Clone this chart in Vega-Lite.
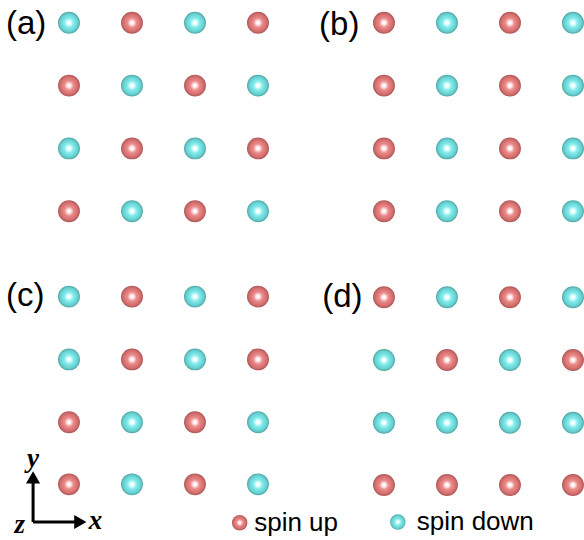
{
  "$schema": "https://vega.github.io/schema/vega-lite/v6.json",
  "width": 584,
  "height": 540,
  "autosize": "none",
  "padding": 0,
  "background": "white",
  "config": {"view": {"stroke": null}},
  "datasets": {
    "atoms": [
      {"panel": "a", "x": 1, "y": 1, "spin": "down"}, {"panel": "a", "x": 2, "y": 1, "spin": "up"}, {"panel": "a", "x": 3, "y": 1, "spin": "down"}, {"panel": "a", "x": 4, "y": 1, "spin": "up"},
      {"panel": "a", "x": 1, "y": 2, "spin": "up"}, {"panel": "a", "x": 2, "y": 2, "spin": "down"}, {"panel": "a", "x": 3, "y": 2, "spin": "up"}, {"panel": "a", "x": 4, "y": 2, "spin": "down"},
      {"panel": "a", "x": 1, "y": 3, "spin": "down"}, {"panel": "a", "x": 2, "y": 3, "spin": "up"}, {"panel": "a", "x": 3, "y": 3, "spin": "down"}, {"panel": "a", "x": 4, "y": 3, "spin": "up"},
      {"panel": "a", "x": 1, "y": 4, "spin": "up"}, {"panel": "a", "x": 2, "y": 4, "spin": "down"}, {"panel": "a", "x": 3, "y": 4, "spin": "up"}, {"panel": "a", "x": 4, "y": 4, "spin": "down"},
      {"panel": "b", "x": 6, "y": 1, "spin": "up"}, {"panel": "b", "x": 7, "y": 1, "spin": "down"}, {"panel": "b", "x": 8, "y": 1, "spin": "up"}, {"panel": "b", "x": 9, "y": 1, "spin": "down"},
      {"panel": "b", "x": 6, "y": 2, "spin": "up"}, {"panel": "b", "x": 7, "y": 2, "spin": "down"}, {"panel": "b", "x": 8, "y": 2, "spin": "up"}, {"panel": "b", "x": 9, "y": 2, "spin": "down"},
      {"panel": "b", "x": 6, "y": 3, "spin": "up"}, {"panel": "b", "x": 7, "y": 3, "spin": "down"}, {"panel": "b", "x": 8, "y": 3, "spin": "up"}, {"panel": "b", "x": 9, "y": 3, "spin": "down"},
      {"panel": "b", "x": 6, "y": 4, "spin": "up"}, {"panel": "b", "x": 7, "y": 4, "spin": "down"}, {"panel": "b", "x": 8, "y": 4, "spin": "up"}, {"panel": "b", "x": 9, "y": 4, "spin": "down"},
      {"panel": "c", "x": 1, "y": 5.36, "spin": "down"}, {"panel": "c", "x": 2, "y": 5.36, "spin": "up"}, {"panel": "c", "x": 3, "y": 5.36, "spin": "down"}, {"panel": "c", "x": 4, "y": 5.36, "spin": "up"},
      {"panel": "c", "x": 1, "y": 6.36, "spin": "down"}, {"panel": "c", "x": 2, "y": 6.36, "spin": "up"}, {"panel": "c", "x": 3, "y": 6.36, "spin": "down"}, {"panel": "c", "x": 4, "y": 6.36, "spin": "up"},
      {"panel": "c", "x": 1, "y": 7.36, "spin": "up"}, {"panel": "c", "x": 2, "y": 7.36, "spin": "down"}, {"panel": "c", "x": 3, "y": 7.36, "spin": "up"}, {"panel": "c", "x": 4, "y": 7.36, "spin": "down"},
      {"panel": "c", "x": 1, "y": 8.35, "spin": "up"}, {"panel": "c", "x": 2, "y": 8.35, "spin": "down"}, {"panel": "c", "x": 3, "y": 8.35, "spin": "up"}, {"panel": "c", "x": 4, "y": 8.35, "spin": "down"},
      {"panel": "d", "x": 6, "y": 5.37, "spin": "up"}, {"panel": "d", "x": 7, "y": 5.37, "spin": "down"}, {"panel": "d", "x": 8, "y": 5.37, "spin": "up"}, {"panel": "d", "x": 9, "y": 5.37, "spin": "down"},
      {"panel": "d", "x": 6, "y": 6.37, "spin": "down"}, {"panel": "d", "x": 7, "y": 6.37, "spin": "up"}, {"panel": "d", "x": 8, "y": 6.37, "spin": "down"}, {"panel": "d", "x": 9, "y": 6.37, "spin": "up"},
      {"panel": "d", "x": 6, "y": 7.37, "spin": "down"}, {"panel": "d", "x": 7, "y": 7.37, "spin": "down"}, {"panel": "d", "x": 8, "y": 7.37, "spin": "down"}, {"panel": "d", "x": 9, "y": 7.37, "spin": "down"},
      {"panel": "d", "x": 6, "y": 8.36, "spin": "up"}, {"panel": "d", "x": 7, "y": 8.36, "spin": "up"}, {"panel": "d", "x": 8, "y": 8.36, "spin": "up"}, {"panel": "d", "x": 9, "y": 8.36, "spin": "up"}
    ],
    "legend": [
      {"spin": "up", "label": "spin up", "x": 3.71, "y": 8.96, "tx": 3.94},
      {"spin": "down", "label": "spin down", "x": 6.22, "y": 8.95, "tx": 6.52}
    ],
    "panels": [
      {"label": "(a)", "x": 0.0, "y": 1.02},
      {"label": "(b)", "x": 4.97, "y": 1.03},
      {"label": "(c)", "x": 0.0, "y": 5.35},
      {"label": "(d)", "x": 5.02, "y": 5.37}
    ],
    "arrows": [
      {"x": 0.43, "y": 8.95, "x2": 0.43, "y2": 8.3},
      {"x": 0.43, "y": 8.95, "x2": 1.12, "y2": 8.95}
    ],
    "heads": [
      {"x": 0.43, "y": 8.24, "shape": "triangle-up"},
      {"x": 1.18, "y": 8.95, "shape": "triangle-right"}
    ],
    "axislabels": [
      {"label": "y", "x": 0.43, "y": 7.94},
      {"label": "x", "x": 1.42, "y": 8.94},
      {"label": "z", "x": 0.22, "y": 9.0}
    ]
  },
  "layer": [
    {
      "data": {"name": "atoms"},
      "transform": [{"filter": "datum.spin === 'up'"}],
      "mark": {"type": "circle", "size": 480, "opacity": 1,
        "fill": {"gradient": "radial", "x1": 0.5, "y1": 0.5, "r1": 0, "x2": 0.5, "y2": 0.5, "r2": 0.5,
          "stops": [{"offset": 0, "color": "#ffffff"}, {"offset": 0.16, "color": "#fff2f2"}, {"offset": 0.42, "color": "#ec8a8a"}, {"offset": 0.82, "color": "#d26c6c"}, {"offset": 1, "color": "#a85454"}]}},
      "encoding": {
        "x": {"field": "x", "type": "quantitative", "scale": {"domain": [-0.095, 9.175], "nice": false, "zero": false}, "axis": null},
        "y": {"field": "y", "type": "quantitative", "scale": {"domain": [0.637, 9.236], "nice": false, "zero": false, "reverse": true}, "axis": null}
      }
    },
    {
      "data": {"name": "atoms"},
      "transform": [{"filter": "datum.spin === 'down'"}],
      "mark": {"type": "circle", "size": 480, "opacity": 1,
        "fill": {"gradient": "radial", "x1": 0.5, "y1": 0.5, "r1": 0, "x2": 0.5, "y2": 0.5, "r2": 0.5,
          "stops": [{"offset": 0, "color": "#ffffff"}, {"offset": 0.16, "color": "#f2ffff"}, {"offset": 0.42, "color": "#82ecec"}, {"offset": 0.82, "color": "#66cece"}, {"offset": 1, "color": "#4ea2a2"}]}},
      "encoding": {
        "x": {"field": "x", "type": "quantitative"},
        "y": {"field": "y", "type": "quantitative"}
      }
    },
    {
      "data": {"name": "legend"},
      "transform": [{"filter": "datum.spin === 'up'"}],
      "mark": {"type": "circle", "size": 240, "opacity": 1,
        "fill": {"gradient": "radial", "x1": 0.5, "y1": 0.5, "r1": 0, "x2": 0.5, "y2": 0.5, "r2": 0.5,
          "stops": [{"offset": 0, "color": "#ffffff"}, {"offset": 0.16, "color": "#fff2f2"}, {"offset": 0.42, "color": "#ec8a8a"}, {"offset": 0.82, "color": "#d26c6c"}, {"offset": 1, "color": "#a85454"}]}},
      "encoding": {
        "x": {"field": "x", "type": "quantitative"},
        "y": {"field": "y", "type": "quantitative"}
      }
    },
    {
      "data": {"name": "legend"},
      "transform": [{"filter": "datum.spin === 'down'"}],
      "mark": {"type": "circle", "size": 240, "opacity": 1,
        "fill": {"gradient": "radial", "x1": 0.5, "y1": 0.5, "r1": 0, "x2": 0.5, "y2": 0.5, "r2": 0.5,
          "stops": [{"offset": 0, "color": "#ffffff"}, {"offset": 0.16, "color": "#f2ffff"}, {"offset": 0.42, "color": "#82ecec"}, {"offset": 0.82, "color": "#66cece"}, {"offset": 1, "color": "#4ea2a2"}]}},
      "encoding": {
        "x": {"field": "x", "type": "quantitative"},
        "y": {"field": "y", "type": "quantitative"}
      }
    },
    {
      "data": {"name": "legend"},
      "mark": {"type": "text", "align": "left", "baseline": "middle", "font": "Liberation Sans", "fontSize": 26, "color": "#000000"},
      "encoding": {
        "x": {"field": "tx", "type": "quantitative"},
        "y": {"field": "y", "type": "quantitative"},
        "text": {"field": "label"}
      }
    },
    {
      "data": {"name": "panels"},
      "mark": {"type": "text", "align": "left", "baseline": "middle", "font": "Liberation Sans", "fontSize": 33, "color": "#000000"},
      "encoding": {
        "x": {"field": "x", "type": "quantitative"},
        "y": {"field": "y", "type": "quantitative"},
        "text": {"field": "label"}
      }
    },
    {
      "data": {"name": "arrows"},
      "mark": {"type": "rule", "strokeWidth": 3, "color": "#000000"},
      "encoding": {
        "x": {"field": "x", "type": "quantitative"},
        "y": {"field": "y", "type": "quantitative"},
        "x2": {"field": "x2"},
        "y2": {"field": "y2"}
      }
    },
    {
      "data": {"name": "heads"},
      "mark": {"type": "point", "filled": true, "size": 200, "opacity": 1, "color": "#000000"},
      "encoding": {
        "x": {"field": "x", "type": "quantitative"},
        "y": {"field": "y", "type": "quantitative"},
        "shape": {"field": "shape", "type": "nominal", "scale": null}
      }
    },
    {
      "data": {"name": "axislabels"},
      "mark": {"type": "text", "align": "center", "baseline": "middle", "font": "Liberation Serif", "fontSize": 27, "fontStyle": "italic", "fontWeight": "bold", "color": "#000000"},
      "encoding": {
        "x": {"field": "x", "type": "quantitative"},
        "y": {"field": "y", "type": "quantitative"},
        "text": {"field": "label"}
      }
    }
  ]
}
